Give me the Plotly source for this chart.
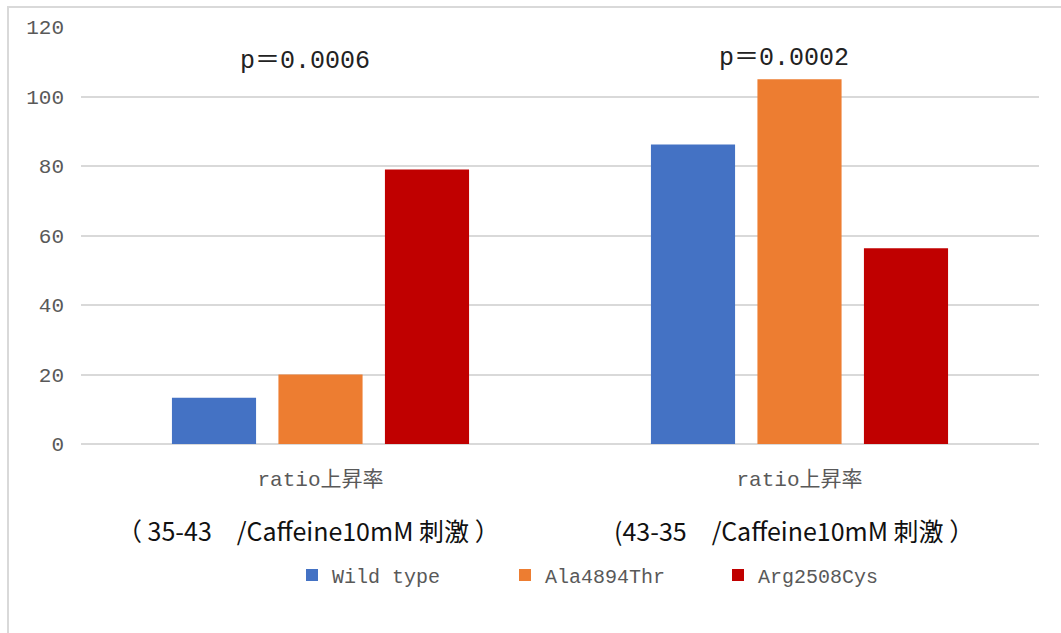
import plotly.graph_objects as go

# Data
series_names = ["Wild type", "Ala4894Thr", "Arg2508Cys"]
series_colors = ["#4472C4", "#ED7D31", "#C00000"]
category_labels = ["ratio上昇率", "ratio上昇率"]
category_notes = ["（ 35-43　/Caffeine10mM 刺激 ）", "(43-35　/Caffeine10mM 刺激 ）"]
p_values = ["p＝0.0006", "p＝0.0002"]
wild_type = [13.3, 86.2]
ala4894thr = [20.0, 105.0]
arg2508cys = [79.0, 56.3]
y_ticks = [0, 20, 40, 60, 80, 100, 120]

W, H = 1061, 633
L, R, T, B = 81, 1039, 27, 444  # plot area in pixels


def px_x(px):
    return (px - L) / (R - L)


def px_y(py):
    return (B - py) / (B - T)


mono = "Liberation Mono, Noto Sans CJK JP, monospace"
gray = "#595959"

fig = go.Figure()
positions = list(range(len(category_labels)))
for name, color, vals in zip(series_names, series_colors, [wild_type, ala4894thr, arg2508cys]):
    fig.add_trace(go.Bar(
        x=positions, y=vals, name=name,
        marker=dict(color=color, line=dict(width=0)),
    ))

# p-value labels above each group
for i, (pos, text) in enumerate(zip(positions, p_values)):
    fig.add_annotation(
        x=pos, y=[110, 111][i], xref="x", yref="y", text=text, showarrow=False,
        xshift=-16,
        font=dict(family="Liberation Mono, Noto Sans CJK JP", size=25, color="#222222"),
    )

# second line of each category label
for i, (pos, text) in enumerate(zip(positions, category_notes)):
    fig.add_annotation(
        x=pos, y=px_y(530), xref="x", yref="paper", text=text, showarrow=False,
        xshift=[-12, -6][i], yanchor="middle",
        font=dict(family="Noto Sans CJK JP", size=25, color="#111111"),
    )

# chart frame
fig.add_shape(type="rect", xref="paper", yref="paper",
              x0=px_x(8), y0=px_y(700), x1=px_x(1100), y1=px_y(7),
              line=dict(color="#d9d9d9", width=2), fillcolor="rgba(0,0,0,0)", layer="below")

fig.update_layout(
    width=W, height=H,
    margin=dict(l=L, r=W - R, t=T, b=H - B, pad=0),
    paper_bgcolor="white", plot_bgcolor="white",
    barmode="group", bargap=0.333, bargroupgap=0.21,
    showlegend=True,
    legend=dict(
        orientation="h", x=px_x(292), y=px_y(575), xanchor="left", yanchor="middle",
        font=dict(family=mono, size=20, color=gray),
        entrywidth=168, entrywidthmode="pixels", itemsizing="constant",
    ),
    xaxis=dict(
        tickmode="array", tickvals=positions, ticktext=category_labels,
        range=[-0.5, 1.5], showgrid=False, showline=False, zeroline=False,
        ticks="", tickfont=dict(family=mono, size=21, color=gray),
        ticklabelstandoff=20,
    ),
    yaxis=dict(
        range=[0, 120], tickvals=y_ticks, showgrid=True, gridcolor="#d9d9d9",
        gridwidth=1.5, zeroline=True, zerolinecolor="#d9d9d9", zerolinewidth=1.5,
        showline=False, ticks="", tickfont=dict(family=mono, size=21, color=gray),
        ticklabelstandoff=16,
    ),
)

fig.write_html("out.html")
